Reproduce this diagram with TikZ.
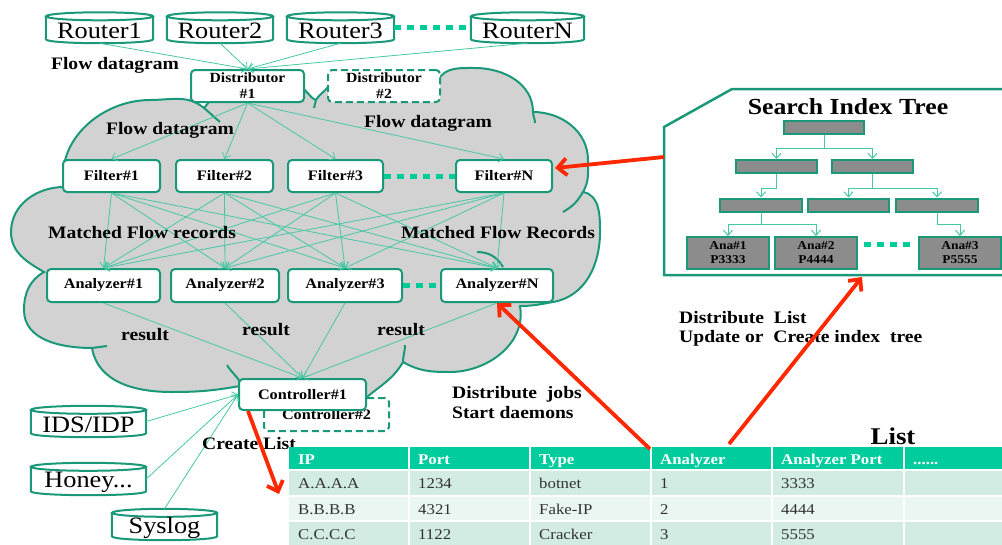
\documentclass[tikz,border=0pt]{standalone}
\usepackage{fontspec}
\setmainfont{Liberation Serif}[FakeStretch=1.12]
\usetikzlibrary{arrows.meta,calc}
\definecolor{teal1}{RGB}{26,152,122}
\definecolor{mint}{RGB}{70,200,165}
\definecolor{dotc}{RGB}{0,204,153}
\definecolor{cloudc}{RGB}{210,210,210}
\definecolor{hdrc}{RGB}{0,204,158}
\definecolor{rowa}{RGB}{210,236,227}
\definecolor{rowb}{RGB}{233,246,241}
\definecolor{treeg}{RGB}{140,140,140}
\definecolor{redc}{RGB}{255,40,0}
\definecolor{txtc}{RGB}{50,50,50}
\newcommand{\sixdots}{......}
\newcommand{\mycyl}[5]{%
  \node[cylbase, minimum width=#3pt, minimum height=#4pt] (#1) at (#2) {};
  \path[cylline] ($(#1.north west)+(0,-4)$) -- ($(#1.south west)+(0,4)$)
     .. controls ($(#1.south west)+(0,-1.33)$) and ($(#1.south east)+(0,-1.33)$) .. ($(#1.south east)+(0,4)$)
     -- ($(#1.north east)+(0,-4)$);
  \path[cylline] ($(#1.north)+(0,-4)$) ellipse [x radius=#3/2, y radius=4];
  \node[cyltext] (#1t) at ($(#1.center)+(0,-3)$) {#5};
}
\begin{document}
\begin{tikzpicture}[x=1pt,y=1pt,
  box/.style={draw=teal1, line width=2pt, rounded corners=4pt, fill=white, inner sep=0pt, minimum height=32pt, font=\fontsize{14.5}{16}\selectfont\bfseries},
  dbox/.style={box, dash pattern=on 7pt off 4pt},
  cylbase/.style={rectangle, inner sep=0pt, fill=white},
  cylline/.style={draw=teal1, line width=2pt},
  cyltext/.style={inner sep=0pt, font=\fontsize{23.5}{25}\selectfont},
  conn/.style={draw=mint, line width=0.8pt, -{Straight Barb[length=5pt,width=9pt]}},
  dots/.style={draw=dotc, line width=5pt, dash pattern=on 7pt off 6pt},
  lbl/.style={inner sep=0pt, font=\fontsize{17.5}{20}\selectfont\bfseries},
  redarr/.style={draw=redc, line width=3.8pt, -{Straight Barb[length=9pt,width=17pt]}},
  cloudline/.style={draw=teal1, line width=2pt},
  tbox/.style={draw=teal1, line width=2pt, fill=treeg, inner sep=0pt},
  tconn/.style={draw=mint, line width=1pt, -{Straight Barb[length=5pt,width=9pt]}},
  htext/.style={anchor=base west, inner sep=0pt, text=white, font=\fontsize{15}{17}\selectfont\bfseries},
  btext/.style={anchor=base west, inner sep=0pt, text=txtc, font=\fontsize{15}{17}\selectfont},
]
\useasboundingbox (0,0) rectangle (1002,-544);

% ---------- cloud ----------
\path[cloudline, fill=cloudc]
 (64,-187) to[out=100,in=180] (150,-100) to[out=0,in=140] (204,-108)
 -- (215,-95) -- (300,-88)
 to[out=-10,in=160] (316,-100) to[out=60,in=-90] (330,-80) -- (438,-80)
 to[out=60,in=180] (475,-68) to[out=0,in=90] (533,-112)
 to[out=0,in=90] (588,-160) to[out=-90,in=60] (583,-192)
 to[out=-10,in=90] (600,-232) to[out=-90,in=10] (553,-302) to[out=190,in=0] (520,-306)
 to[out=-80,in=0] (450,-372) to[out=180,in=-30] (403,-362)
 to[out=-120,in=40] (367,-397) -- (250,-397) -- (240,-386)
 to[out=-170,in=0] (172,-392) to[out=180,in=-80] (92,-348)
 to[out=180,in=-90] (24,-310) to[out=90,in=210] (44,-272)
 to[out=150,in=-90] (11,-232) to[out=90,in=180] (64,-187) -- cycle;
\draw[cloudline] (204,-108) to[out=-40,in=140] (220,-122);
\draw[cloudline] (316,-100) -- (314,-108);
\draw[cloudline] (533,-112) to[out=-90,in=90] (535,-123);
\draw[cloudline] (583,-192) to[out=-120,in=30] (563,-212);
\draw[cloudline] (477,-252) to[out=0,in=120] (503,-267);
\draw[cloudline] (403,-362) to[out=90,in=-90] (405,-345);
\draw[cloudline] (92,-348) -- (107,-346);
\draw[cloudline] (240,-382) to[out=120,in=-60] (227,-365);

% ---------- routers ----------
\mycyl{ro1}{99.5,-27.75}{107}{30.5}{Router1}
\mycyl{ro2}{220,-27.75}{106}{30.5}{Router2}
\mycyl{ro3}{340.5,-27.75}{107}{30.5}{Router3}
\mycyl{roN}{527.5,-27.75}{113}{30.5}{RouterN}
\draw[dots] (ro3.east) -- (roN.west);

% ---------- sources ----------
\mycyl{ids}{88.5,-421.5}{115}{31}{IDS/IDP}
\mycyl{hon}{88.5,-479}{115}{32}{Honey...}
\mycyl{sys}{164.5,-524.5}{105}{31}{Syslog}

% ---------- boxes ----------
\node[box, minimum width=113pt, align=center, font=\fontsize{14}{16}\selectfont\bfseries] (d1) at (247.5,-86) {Distributor\\\#1};
\node[dbox, minimum width=112pt, align=center, font=\fontsize{14}{16}\selectfont\bfseries] (d2) at (384,-86) {Distributor\\\#2};

\node[box, minimum width=97pt] (f1) at (111.5,-176) {Filter\#1};
\node[box, minimum width=97pt] (f2) at (224.5,-176) {Filter\#2};
\node[box, minimum width=95pt] (f3) at (335.5,-176) {Filter\#3};
\node[box, minimum width=96pt] (fN) at (504,-176) {Filter\#N};
\draw[dots] (f3.east) -- (fN.west);

\node[box, minimum width=113pt, minimum height=33pt] (a1) at (103.5,-285.5) {Analyzer\#1};
\node[box, minimum width=108pt, minimum height=33pt] (a2) at (225,-285.5) {Analyzer\#2};
\node[box, minimum width=114pt, minimum height=33pt] (a3) at (345,-285.5) {Analyzer\#3};
\node[box, minimum width=112pt, minimum height=33pt] (aN) at (497,-285.5) {Analyzer\#N};
\draw[dots] (a3.east) -- (aN.west);

\node[dbox, minimum width=125pt, minimum height=33pt] (c2) at (326.5,-414.5) {\raisebox{-3pt}{Controller\#2}};
\node[box, minimum width=127pt, minimum height=31pt] (c1) at (302.5,-394.5) {Controller\#1};

% ---------- connectors ----------
\foreach \r in {ro1,ro2,ro3,roN} \draw[conn] (\r.south) -- (d1.north);
\foreach \f in {f1,f2,f3,fN} \draw[conn] (d1.south) -- (\f.north);
\foreach \f in {f1,f2,f3,fN} {
  \foreach \a in {a1,a2,a3,aN} \draw[conn] (\f.south) -- (\a.north);
}
\foreach \a in {a1,a2,a3,aN} \draw[conn] (\a.south) -- (c1.north);
\draw[conn] (ids.east) -- (c1.west);
\draw[conn] (hon.east) -- (c1.west);
\draw[conn] (sys.north) -- (c1.west);

% ---------- labels ----------
\node[lbl] (fd1) at (115,-65) {Flow datagram};
\node[lbl] (fd2) at (170,-130) {Flow datagram};
\node[lbl] (fd3) at (428,-123) {Flow datagram};
\node[lbl] (mf1) at (142,-233) {Matched Flow records};
\node[lbl] (mf2) at (498,-233) {Matched Flow Records};
\node[lbl] (rs1) at (145,-335) {result};
\node[lbl] (rs2) at (266,-330) {result};
\node[lbl] (rs3) at (401,-330) {result};
\node[lbl] (crl) at (249,-444) {Create List};
\node[lbl, anchor=west, align=left] (dj) at (452,-403) {Distribute\ \ jobs\\Start daemons};
\node[lbl, anchor=west, align=left, font=\fontsize{17.5}{19}\selectfont\bfseries] (dl) at (679,-329) {Distribute\ \ List\\Update or\ \ Create index\ \ tree};

% ---------- search index tree ----------
\path[draw=teal1, line width=2.5pt, fill=white] (1004,-89) -- (732,-89) -- (664,-127) -- (664,-275) -- (1004,-275);
\node[inner sep=0pt, font=\fontsize{23}{25}\selectfont\bfseries] (sit) at (848,-107) {Search Index Tree};
\node[tbox, minimum width=80pt, minimum height=13pt] (t0) at (824,-127.5) {};
\node[tbox, minimum width=81pt, minimum height=13pt] (t1a) at (776.5,-166.5) {};
\node[tbox, minimum width=81pt, minimum height=13pt] (t1b) at (872.5,-166.5) {};
\node[tbox, minimum width=82pt, minimum height=13pt] (t2a) at (761,-205) {};
\node[tbox, minimum width=81pt, minimum height=13pt] (t2b) at (848.5,-205) {};
\node[tbox, minimum width=82pt, minimum height=13pt] (t2c) at (937,-205) {};
\node[tbox, minimum width=82pt, minimum height=32pt, align=center, font=\fontsize{12}{14}\selectfont\bfseries] (lf1) at (728,-253) {Ana\#1\\P3333};
\node[tbox, minimum width=82pt, minimum height=32pt, align=center, font=\fontsize{12}{14}\selectfont\bfseries] (lf2) at (816,-253) {Ana\#2\\P4444};
\node[tbox, minimum width=82pt, minimum height=32pt, align=center, font=\fontsize{12}{14}\selectfont\bfseries] (lf3) at (960,-253) {Ana\#3\\P5555};
\draw[tconn] (t0.south) -- ++(0,-13) -| (t1a.north);
\draw[tconn] (t0.south) -- ++(0,-13) -| (t1b.north);
\draw[tconn] (t1a.south) -- ++(0,-14) -| (t2a.north);
\draw[tconn] (t1b.south) -- ++(0,-14) -| (t2b.north);
\draw[tconn] (t1b.south) -- ++(0,-14) -| (t2c.north);
\draw[tconn] (t2a.south) -- ++(0,-12) -| (lf1.north);
\draw[tconn] (t2a.south) -- ++(0,-12) -| (lf2.north);
\draw[tconn] (t2c.south) -- ++(0,-12) -| (lf3.north);
\draw[dots] ($(lf2.east)+(6,9)$) -- ($(lf3.west)+(-6,9)$);

% ---------- table ----------
\node[inner sep=0pt, font=\fontsize{24}{26}\selectfont\bfseries] (lst) at (893,-436) {List};
\foreach \xa/\xb/\t [count=\i] in {289/409/IP, 409/530/Port, 530/651/Type, 651/772/Analyzer, 772/904/Analyzer Port, 904/1004/\sixdots}{
  \fill[hdrc] (\xa,-447) rectangle (\xb,-470);
  \fill[rowa] (\xa,-470) rectangle (\xb,-496);
  \fill[rowb] (\xa,-496) rectangle (\xb,-521);
  \fill[rowa] (\xa,-521) rectangle (\xb,-546);
  \node[htext] (h\i) at (\xa+9,-464) {\t};
}
\foreach \x in {409,530,651,772,904} \draw[white, line width=1.5pt] (\x,-447) -- (\x,-546);
\foreach \y in {-470,-496,-521} \draw[white, line width=1.5pt] (289,\y) -- (1004,\y);
\foreach \xa/\ta/\tb/\tc [count=\i] in {289/A.A.A.A/B.B.B.B/C.C.C.C, 409/1234/4321/1122, 530/botnet/Fake-IP/Cracker, 651/1/2/3, 772/3333/4444/5555}{
  \node[btext] (ra\i) at (\xa+9,-488.5) {\ta};
  \node[btext] (rb\i) at (\xa+9,-514) {\tb};
  \node[btext] (rc\i) at (\xa+9,-539) {\tc};
}

% ---------- red arrows ----------
\coordinate (ctip) at (279,-494);
\coordinate (djs) at (650,-449);
\coordinate (dls) at (729,-444);
\coordinate (dlt) at (862,-277);
\coordinate (ps) at (664,-157);
\coordinate (pt) at (555,-168);
\draw[redarr] ($(c1.south west)+(10,0)$) -- (ctip);
\draw[redarr] (djs) -- (aN.south);
\draw[redarr] (dls) -- (dlt);
\draw[redarr] (ps) -- (pt);
\end{tikzpicture}
\end{document}
